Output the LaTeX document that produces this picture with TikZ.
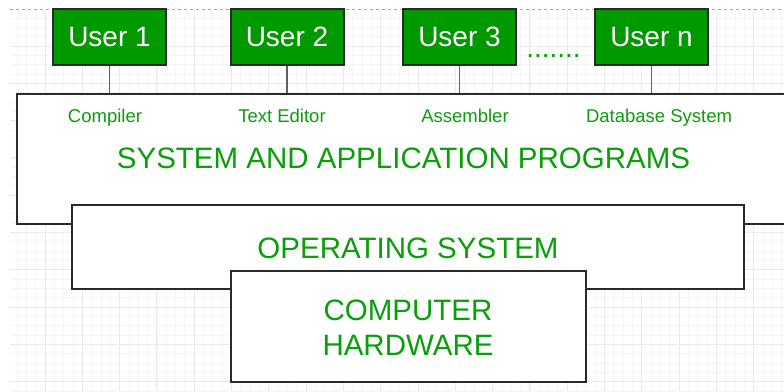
\documentclass[tikz,border=0pt]{standalone}
\usepackage{fontspec}
\setmainfont{Liberation Sans}
\definecolor{ugreen}{HTML}{009900}
\definecolor{tgreen}{HTML}{0A9E0A}
\definecolor{minorg}{HTML}{F5F5F5}
\definecolor{majorg}{HTML}{EAEAEA}
\definecolor{edge}{HTML}{2A2A2A}
\definecolor{conn}{HTML}{606060}
\tikzset{
  userbox/.style={draw=edge, line width=2pt, fill=ugreen, text=white,
    minimum width=113pt, minimum height=56pt, inner sep=0pt,
    font=\fontsize{28}{30}\selectfont},
  layerbox/.style={draw=edge, line width=2pt, fill=white, inner sep=0pt,
    text=tgreen, align=center, font=\fontsize{29.5}{35.5}\selectfont},
  smalllabel/.style={text=tgreen, inner sep=0pt, anchor=base, font=\fontsize{18.5}{20}\selectfont},
  biglabel/.style={text=tgreen, inner sep=0pt, anchor=base, font=\fontsize{29.5}{32}\selectfont},
  conline/.style={draw=conn, line width=1.4pt},
  minorline/.style={draw=minorg, line width=0.8pt},
  majorline/.style={draw=majorg, line width=0.9pt}
}
\begin{document}
\begin{tikzpicture}[x=1pt,y=-1pt]
\useasboundingbox (0,0) rectangle (784,391);
% background grid
\begin{scope}
  \clip (10,9.5) rectangle (784,391);
  \foreach \i in {-5,...,80} {
    \draw[minorline] ({45+\i*9.325},0) -- ({45+\i*9.325},391);
  }
  \foreach \i in {-5,...,40} {
    \draw[minorline] (0,{46+\i*9.325}) -- (784,{46+\i*9.325});
  }
  \foreach \i in {-1,...,20} {
    \draw[majorline] ({45+\i*37.3},0) -- ({45+\i*37.3},391);
  }
  \foreach \i in {-1,...,10} {
    \draw[majorline] (0,{46+\i*37.3}) -- (784,{46+\i*37.3});
  }
\end{scope}
\draw[draw=gray!70, dashed, line width=0.8pt] (10,9.5) -- (784,9.5);

% users
\node[userbox] (u1) at (109.5,37) {User 1};
\node[userbox] (u2) at (287,37) {User 2};
\node[userbox] (u3) at (459.5,37) {User 3};
\node[userbox] (un) at (651.5,37) {User n};
\node[text=tgreen, inner sep=0pt, anchor=base, font=\fontsize{28}{30}\selectfont] (dots) at (553.5,57) {.......};

% layers
\node[layerbox, anchor=north west, minimum width=794pt, minimum height=130pt] (sys) at (16,93) {};
\node[layerbox, minimum width=672pt, minimum height=84pt] (os) at (408,247) {};
\node[biglabel] (osl) at (408,258) {OPERATING SYSTEM};
\node[layerbox, minimum width=355pt, minimum height=111pt] (hw) at (408.5,326.5) {};
\node[biglabel] (hw1) at (408,320) {COMPUTER};
\node[biglabel] (hw2) at (408,355.5) {HARDWARE};

% connectors
\draw[conline] (u1.south) -- (u1.south |- sys.north);
\draw[conline] (u2.south) -- (u2.south |- sys.north);
\draw[conline] (u3.south) -- (u3.south |- sys.north);
\draw[conline] (un.south) -- (un.south |- sys.north);

% labels
\node[smalllabel] (l1) at (105,122.5) {Compiler};
\node[smalllabel] (l2) at (282,122.5) {Text Editor};
\node[smalllabel] (l3) at (465,122.5) {Assembler};
\node[smalllabel] (l4) at (659,122.5) {Database System};
\node[biglabel] (sysl) at (403.5,168) {SYSTEM AND APPLICATION PROGRAMS};
\end{tikzpicture}
\end{document}
